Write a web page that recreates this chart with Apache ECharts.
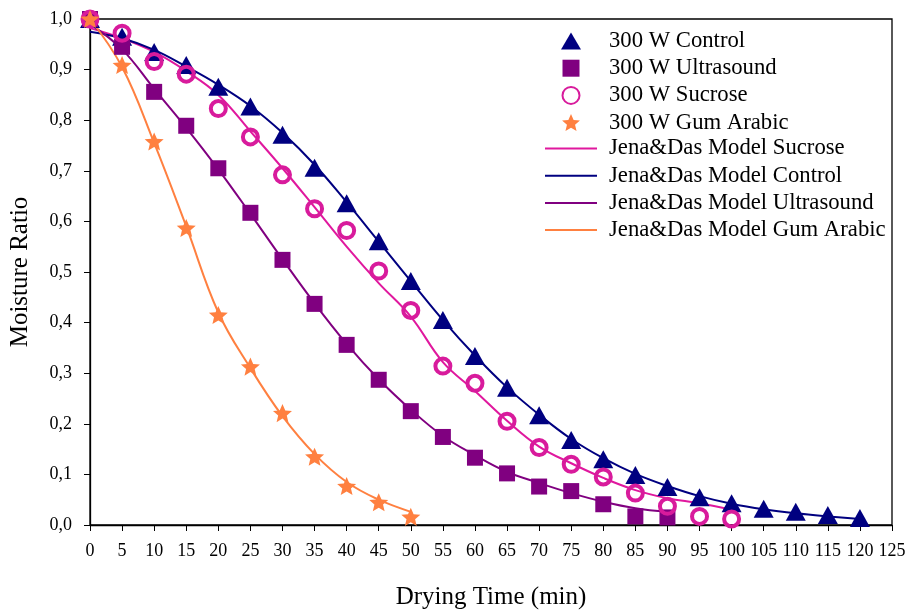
<!DOCTYPE html>
<html>
<head>
<meta charset="utf-8">
<script src="https://cdn.jsdelivr.net/npm/echarts@6/dist/echarts.min.js"></script>
<style>
html,body{margin:0;padding:0;background:#fff;}
#chart{width:907px;height:611px;}
</style>
</head>
<body>
<div id="chart"></div>
<script>
// ---- data ----
const xTicks = [0,5,10,15,20,25,30,35,40,45,50,55,60,65,70,75,80,85,90,95,100,105,110,115,120,125];
const yTicks = [0,0.1,0.2,0.3,0.4,0.5,0.6,0.7,0.8,0.9,1.0];

const controlTime = [0,5,10,15,20,25,30,35,40,45,50,55,60,65,70,75,80,85,90,95,100,105,110,115,120];
const controlMR   = [1.0,0.965,0.935,0.909,0.866,0.827,0.771,0.706,0.636,0.561,0.482,0.405,0.334,0.271,0.217,0.168,0.130,0.099,0.075,0.055,0.043,0.032,0.026,0.020,0.014];
const controlModel= [0.975,0.962,0.939,0.906,0.870,0.828,0.775,0.712,0.638,0.560,0.482,0.405,0.335,0.272,0.218,0.170,0.132,0.101,0.077,0.057,0.042,0.031,0.023,0.017,0.012];

const ultraTime  = [0,5,10,15,20,25,30,35,40,45,50,55,60,65,70,75,80,85,90];
const ultraMR    = [1.0,0.945,0.856,0.789,0.705,0.617,0.524,0.437,0.356,0.287,0.225,0.174,0.133,0.102,0.076,0.067,0.041,0.017,0.015];
const ultraModel = [0.99,0.940,0.862,0.785,0.703,0.615,0.525,0.438,0.358,0.288,0.228,0.176,0.138,0.105,0.083,0.063,0.046,0.033,0.026];

const sucroseTime  = [0,5,10,15,20,25,30,35,40,45,50,55,60,65,70,75,80,85,90,95,100];
const sucroseMR    = [1.0,0.972,0.916,0.891,0.823,0.767,0.692,0.625,0.582,0.502,0.424,0.314,0.280,0.205,0.153,0.120,0.095,0.063,0.037,0.017,0.012];
const sucroseModel = [0.982,0.962,0.935,0.897,0.850,0.778,0.705,0.628,0.550,0.478,0.412,0.322,0.265,0.206,0.155,0.122,0.093,0.069,0.053,0.043,0.030];

const gumTime  = [0,5,10,15,20,25,30,35,40,45,50];
const gumMR    = [1.0,0.909,0.758,0.587,0.415,0.313,0.221,0.135,0.077,0.045,0.016];
const gumModel = [1.0,0.905,0.755,0.590,0.420,0.310,0.215,0.140,0.085,0.050,0.026];

const names = {
  control: '300 W Control',
  ultra: '300 W Ultrasound',
  sucrose: '300 W Sucrose',
  gum: '300 W Gum Arabic',
  mSucrose: 'Jena&Das Model Sucrose',
  mControl: 'Jena&Das Model Control',
  mUltra: 'Jena&Das Model Ultrasound',
  mGum: 'Jena&Das Model Gum Arabic'
};

// ---- build ----
const pair = (t, v) => t.map((x, i) => [x, v[i]]);
const FONT = '"Liberation Serif", "Times New Roman", serif';
const cNavy = '#000080', cPurple = '#800080', cPink = '#E0189E', cRing = '#D81B9C', cOrange = '#FF8040';
const star = 'path://M0,-10 L2.8,-3.6 9.5,-3.1 4.3,1.4 5.9,8.1 0,4.5 -5.9,8.1 -4.3,1.4 -9.5,-3.1 -2.8,-3.6 Z';
const squarePath = 'path://M0,0H10V10H0Z';
const circlePath = 'path://M0,10A10,10 0 1,0 20,10A10,10 0 1,0 0,10Z';

function modelLine(name, t, v, color) {
  return {
    name, type: 'line', data: pair(t, v), smooth: 0.4, symbol: 'none', showSymbol: false,
    lineStyle: { color, width: 2 }, itemStyle: { color }, z: 2, silent: true
  };
}
function marks(name, t, v, symbol, size, style) {
  return {
    name, type: 'scatter', data: pair(t, v), symbol, symbolSize: size, symbolKeepAspect: true,
    itemStyle: Object.assign({ opacity: 1 }, style), z: 3, silent: true
  };
}

const legendText = (pad) => ({ fontFamily: FONT, fontSize: 22.7, color: '#000', padding: [0, 0, 0, pad] });

const chart = echarts.init(document.getElementById('chart'), null, { renderer: 'canvas' });
chart.setOption({
  animation: false,
  backgroundColor: '#fff',
  grid: { left: 90, right: 15, top: 19, bottom: 86, show: true, borderColor: '#000', borderWidth: 1.3,
          backgroundColor: 'transparent', containLabel: false, outerBoundsMode: 'none' },
  legend: [
    {
      orient: 'vertical', left: 561, top: 29.5, padding: 0, itemWidth: 20, itemHeight: 17, itemGap: 4.2,
      textStyle: legendText(23), selectedMode: false,
      data: [
        { name: names.control, icon: 'triangle' },
        { name: names.ultra, icon: squarePath },
        { name: names.sucrose, icon: circlePath },
        { name: names.gum, icon: star }
      ]
    },
    {
      orient: 'vertical', left: 545, top: 137, padding: 0, itemWidth: 52, itemHeight: 2, itemGap: 4.2,
      textStyle: legendText(7), selectedMode: false,
      data: [
        { name: names.mSucrose, icon: 'rect' },
        { name: names.mControl, icon: 'rect' },
        { name: names.mUltra, icon: 'rect' },
        { name: names.mGum, icon: 'rect' }
      ]
    }
  ],
  xAxis: {
    type: 'value', min: xTicks[0], max: xTicks[xTicks.length - 1], interval: 5,
    name: 'Drying Time (min)', nameLocation: 'middle', nameGap: 60,
    nameTextStyle: { fontFamily: FONT, fontSize: 25, color: '#000' },
    axisLine: { show: true, onZero: false, lineStyle: { color: '#000', width: 1.3 } },
    axisTick: { show: true, inside: false, length: 6, lineStyle: { color: '#000' } },
    axisLabel: { fontFamily: FONT, fontSize: 18, color: '#000', margin: 17, showMinLabel: true, showMaxLabel: true },
    splitLine: { show: false }
  },
  yAxis: {
    type: 'value', min: yTicks[0], max: yTicks[yTicks.length - 1], interval: 0.1,
    name: 'Moisture Ratio', nameLocation: 'middle', nameGap: 57, nameRotate: 90,
    nameTextStyle: { fontFamily: FONT, fontSize: 25, color: '#000' },
    axisLine: { show: true, lineStyle: { color: '#000', width: 1.3 } },
    axisTick: { show: true, inside: false, length: 6, lineStyle: { color: '#000' } },
    axisLabel: { fontFamily: FONT, fontSize: 18, color: '#000', margin: 18,
      formatter: v => v.toFixed(1).replace('.', ',') },
    splitLine: { show: false }
  },
  series: [
    modelLine(names.mSucrose, sucroseTime, sucroseModel, cPink),
    modelLine(names.mControl, controlTime, controlModel, cNavy),
    modelLine(names.mUltra, ultraTime, ultraModel, cPurple),
    modelLine(names.mGum, gumTime, gumModel, cOrange),
    marks(names.control, controlTime, controlMR, 'triangle', [20, 18], { color: cNavy }),
    marks(names.ultra, ultraTime, ultraMR, 'rect', 16, { color: cPurple }),
    marks(names.sucrose, sucroseTime, sucroseMR, 'circle', 15, { color: 'rgba(0,0,0,0)', borderColor: cRing, borderWidth: 4 }),
    marks(names.gum, gumTime, gumMR, star, 19, { color: cOrange })
  ]
});
</script>
</body>
</html>
